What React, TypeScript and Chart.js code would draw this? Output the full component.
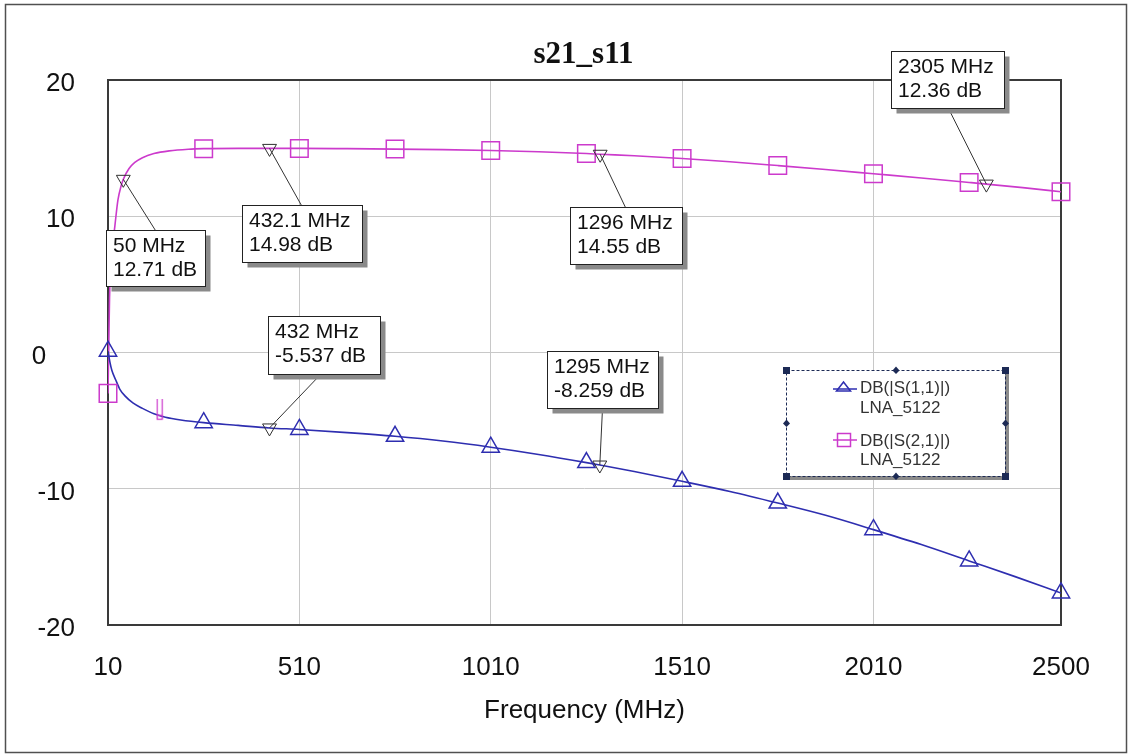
import React, { useEffect, useRef } from 'react';
import { Chart, registerables } from 'chart.js';

Chart.register(...registerables);

// ---------- data ----------
const chartTitle = 's21_s11';
const xAxisTitle = 'Frequency (MHz)';
const xTicks = [10, 510, 1010, 1510, 2010, 2500];
const yTicks = [-20, -10, 0, 10, 20];

const s11Name = 'DB(|S(1,1)|)';
const s21Name = 'DB(|S(2,1)|)';
const sourceName = 'LNA_5122';

const s21Freq = [10, 12, 14, 17, 22, 28, 36, 44, 50, 65, 80, 100, 130, 170, 220, 260, 350, 432.1, 510, 635, 760, 885, 1010, 1135, 1260, 1296, 1385, 1510, 1635, 1760, 1885, 2010, 2135, 2260, 2305, 2400, 2500];
const s21Db = [-3.0, 0.5, 4.0, 6.0, 7.8, 9.3, 11.2, 12.2, 12.71, 13.5, 13.95, 14.3, 14.6, 14.8, 14.92, 14.96, 14.98, 14.98, 14.98, 14.96, 14.93, 14.89, 14.83, 14.73, 14.6, 14.55, 14.44, 14.24, 14.0, 13.72, 13.43, 13.12, 12.81, 12.48, 12.36, 12.1, 11.8];

const s11Freq = [10, 15, 20, 30, 41, 55, 75, 100, 130, 160, 200, 260, 350, 432, 510, 635, 760, 885, 1010, 1135, 1260, 1295, 1385, 1510, 1635, 1760, 1885, 2010, 2135, 2260, 2380, 2500];
const s11Db = [0.1, -0.7, -1.3, -2.0, -2.7, -3.2, -3.7, -4.1, -4.5, -4.75, -4.95, -5.15, -5.35, -5.537, -5.65, -5.88, -6.15, -6.5, -6.95, -7.48, -8.08, -8.259, -8.74, -9.45, -10.2, -11.05, -11.95, -13.0, -14.1, -15.3, -16.45, -17.65];

// symbol markers are placed on these frequencies
const symbolFreq = [10, 260, 510, 760, 1010, 1260, 1510, 1760, 2010, 2260, 2500];

// stray S21 marker glyph near the start
const s21StrayFreq = [145];
const s21StrayDb = [-4.2];

// readout markers
const markerFreq = [50, 432.1, 1296, 2305, 432, 1295];
const markerDb = [12.71, 14.98, 14.55, 12.36, -5.537, -8.259];

// ---------- styles / layout ----------
const W = 1129;
const H = 754;
const SANS = '"Liberation Sans", Arial, sans-serif';
const SERIF = '"Liberation Serif", "Times New Roman", serif';
const BLUE = '#2e2eb0';
const MAGENTA = '#cc3acc';
const GRID = '#c8c8c8';

// readout box placement relative to its marker: dx, dy, w, h, leader anchor (ax, ay) inside box
const boxLayout = [
  { dx: -17, dy: 51, w: 99, h: 56, ax: 49, ay: 0 },
  { dx: -27.5, dy: 57, w: 120, h: 57, ax: 59, ay: 0 },
  { dx: -30, dy: 53, w: 112, h: 57, ax: 55, ay: 0 },
  { dx: -95, dy: -133, w: 113, h: 57, ax: 57, ay: 57 },
  { dx: -1.4, dy: -112, w: 112, h: 58, ax: 52, ay: 58 },
  { dx: -53, dy: -114, w: 111, h: 57, ax: 55, ay: 57 },
];

const legendBox = { x: 786, y: 370, w: 219, h: 106 };

const pts = (xs: number[], ys: number[]) => xs.map((x, i) => ({ x, y: ys[i] }));
const onSymbols = (xs: number[], ys: number[]) =>
  pts(xs, ys).filter((p) => symbolFreq.includes(p.x));

const decorPlugin = {
  id: 'decor',
  beforeDraw(chart: any) {
    const { ctx, chartArea } = chart;
    ctx.save();
    ctx.fillStyle = '#ffffff';
    ctx.fillRect(0, 0, W, H);
    ctx.strokeStyle = '#505050';
    ctx.lineWidth = 1.5;
    ctx.strokeRect(5.5, 4.5, 1121, 748);
    ctx.font = `bold 31px ${SERIF}`;
    ctx.fillStyle = '#111';
    ctx.textAlign = 'center';
    ctx.textBaseline = 'alphabetic';
    ctx.fillText(chartTitle, (chartArea.left + chartArea.right) / 2 - 1, 63);
    ctx.restore();
  },
  beforeDatasetsDraw(chart: any) {
    const { ctx, chartArea } = chart;
    ctx.save();
    ctx.strokeStyle = '#3a3a3a';
    ctx.lineWidth = 2;
    ctx.strokeRect(chartArea.left, chartArea.top, chartArea.right - chartArea.left, chartArea.bottom - chartArea.top);
    ctx.restore();
  },
  afterDatasetsDraw(chart: any) {
    const { ctx } = chart;
    const xs = chart.scales.x;
    const ys = chart.scales.y;
    ctx.save();
    // readout boxes
    markerFreq.forEach((f, i) => {
      const px = xs.getPixelForValue(f);
      const py = ys.getPixelForValue(markerDb[i]);
      const L = boxLayout[i];
      const bx = Math.round(px + L.dx) + 0.5;
      const by = Math.round(py + L.dy) + 0.5;
      ctx.strokeStyle = '#333';
      ctx.lineWidth = 1;
      ctx.beginPath();
      ctx.moveTo(px, py);
      ctx.lineTo(bx + L.ax, by + L.ay);
      ctx.stroke();
      ctx.fillStyle = '#8a8a8a';
      ctx.fillRect(bx + 5, by + 5, L.w, L.h);
      ctx.fillStyle = '#fff';
      ctx.fillRect(bx, by, L.w, L.h);
      ctx.strokeStyle = '#222';
      ctx.strokeRect(bx, by, L.w, L.h);
      ctx.fillStyle = '#111';
      ctx.font = `21px ${SANS}`;
      ctx.textAlign = 'left';
      ctx.textBaseline = 'middle';
      ctx.fillText(`${f} MHz`, bx + 6.5, by + 16);
      ctx.fillText(`${markerDb[i]} dB`, bx + 6.5, by + 40);
    });

    // legend
    const { x, y, w, h } = legendBox;
    ctx.fillStyle = '#8a8a8a';
    ctx.fillRect(x + 4, y + 4, w, h);
    ctx.fillStyle = '#fff';
    ctx.fillRect(x, y, w, h);
    ctx.strokeStyle = '#1c2a55';
    ctx.lineWidth = 1;
    ctx.setLineDash([3, 2]);
    ctx.strokeRect(x + 0.5, y + 0.5, w, h);
    ctx.setLineDash([]);
    ctx.fillStyle = '#1c2a55';
    const corners = [[x, y], [x + w, y], [x, y + h], [x + w, y + h]];
    corners.forEach(([cx, cy]) => ctx.fillRect(cx - 3, cy - 3, 7, 7));
    const mids = [[x + w / 2, y], [x + w / 2, y + h], [x, y + h / 2], [x + w, y + h / 2]];
    mids.forEach(([cx, cy]) => {
      ctx.beginPath();
      ctx.moveTo(cx + 0.5, cy - 3.5);
      ctx.lineTo(cx + 4, cy + 0.5);
      ctx.lineTo(cx + 0.5, cy + 4);
      ctx.lineTo(cx - 3, cy + 0.5);
      ctx.closePath();
      ctx.fill();
    });
    // entry 1: S11
    ctx.strokeStyle = BLUE;
    ctx.lineWidth = 1.5;
    ctx.beginPath();
    ctx.moveTo(x + 47, y + 19);
    ctx.lineTo(x + 71, y + 19);
    ctx.stroke();
    ctx.beginPath();
    ctx.moveTo(x + 57.5, y + 12);
    ctx.lineTo(x + 64.5, y + 21);
    ctx.lineTo(x + 50.5, y + 21);
    ctx.closePath();
    ctx.stroke();
    // entry 2: S21
    ctx.strokeStyle = MAGENTA;
    ctx.beginPath();
    ctx.moveTo(x + 47, y + 70);
    ctx.lineTo(x + 71, y + 70);
    ctx.stroke();
    ctx.strokeRect(x + 51.5, y + 63.5, 13, 13);
    ctx.fillStyle = '#333';
    ctx.font = `17px ${SANS}`;
    ctx.textAlign = 'left';
    ctx.textBaseline = 'middle';
    ctx.fillText(s11Name, x + 74, y + 18);
    ctx.fillText(sourceName, x + 74, y + 38);
    ctx.fillText(s21Name, x + 74, y + 71);
    ctx.fillText(sourceName, x + 74, y + 90);
    ctx.restore();
  },
};

export default function App() {
  const ref = useRef<HTMLCanvasElement>(null);

  useEffect(() => {
    const canvas = ref.current;
    if (!canvas) return;

    const stray = document.createElement('canvas');
    stray.width = 8;
    stray.height = 22;
    const sctx = stray.getContext('2d')!;
    sctx.strokeStyle = MAGENTA;
    sctx.lineWidth = 1.2;
    sctx.beginPath();
    sctx.moveTo(1.5, 0);
    sctx.lineTo(1.5, 21);
    sctx.moveTo(6.5, 0);
    sctx.lineTo(6.5, 21);
    sctx.stroke();
    sctx.strokeRect(1.5, 16.5, 5, 4);

    const chart = new Chart(canvas, {
      type: 'line',
      data: {
        datasets: [
          {
            label: 'markers',
            data: pts(markerFreq, markerDb),
            showLine: false,
            pointStyle: 'triangle',
            rotation: 180,
            pointRadius: 8,
            borderColor: '#303030',
            backgroundColor: 'rgba(0,0,0,0)',
            borderWidth: 1,
            clip: false,
          } as any,
          {
            label: 's11sym',
            data: onSymbols(s11Freq, s11Db),
            showLine: false,
            pointStyle: 'triangle',
            pointRadius: 10,
            borderColor: BLUE,
            backgroundColor: 'rgba(0,0,0,0)',
            borderWidth: 1.5,
            clip: false,
          } as any,
          {
            label: 's21sym',
            data: onSymbols(s21Freq, s21Db),
            showLine: false,
            pointStyle: 'rect',
            pointRadius: 12.4,
            borderColor: MAGENTA,
            backgroundColor: 'rgba(0,0,0,0)',
            borderWidth: 1.5,
            clip: false,
          } as any,
          {
            label: 's21stray',
            data: pts(s21StrayFreq, s21StrayDb),
            showLine: false,
            pointStyle: stray,
            pointRadius: 5,
            clip: false,
          } as any,
          {
            label: s11Name,
            data: pts(s11Freq, s11Db),
            borderColor: BLUE,
            borderWidth: 1.6,
            pointRadius: 0,
            cubicInterpolationMode: 'monotone',
            fill: false,
          } as any,
          {
            label: s21Name,
            data: pts(s21Freq, s21Db),
            borderColor: MAGENTA,
            borderWidth: 1.6,
            pointRadius: 0,
            cubicInterpolationMode: 'monotone',
            fill: false,
          } as any,
        ],
      },
      options: {
        responsive: false,
        animation: false,
        devicePixelRatio: 1,
        layout: { padding: { left: 0, top: 80, right: 68, bottom: 0 } },
        plugins: {
          legend: { display: false },
          title: { display: false },
          tooltip: { enabled: false },
        },
        scales: {
          x: {
            type: 'linear',
            min: 10,
            max: 2500,
            afterBuildTicks: (s: any) => {
              s.ticks = xTicks.map((v) => ({ value: v }));
            },
            afterFit: (s: any) => {
              s.height = 129;
            },
            grid: { color: GRID, lineWidth: 1, drawTicks: false },
            border: { display: false },
            ticks: {
              font: { family: SANS, size: 26 },
              color: '#111',
              padding: 27,
              maxRotation: 0,
              autoSkip: false,
              callback: (v: any) => String(v),
            },
            title: {
              display: true,
              text: xAxisTitle,
              font: { family: SANS, size: 26 },
              color: '#111',
              padding: { top: 0, bottom: 28 },
            },
          },
          y: {
            type: 'linear',
            min: -20,
            max: 20,
            afterBuildTicks: (s: any) => {
              s.ticks = yTicks.map((v) => ({ value: v }));
            },
            afterFit: (s: any) => {
              s.width = 108;
            },
            grid: { color: GRID, lineWidth: 1, drawTicks: false },
            border: { display: false },
            ticks: {
              font: { family: SANS, size: 26 },
              color: '#111',
              padding: 33,
              labelOffset: 4,
              callback: (v: any) => (Number(v) === 0 ? '0    ' : String(v)),
            },
          },
        },
      } as any,
      plugins: [decorPlugin],
    });

    return () => chart.destroy();
  }, []);

  return (
    <div style={{ position: 'absolute', left: 0, top: 0, width: W, height: H }}>
      <canvas ref={ref} width={W} height={H} style={{ display: 'block', width: W, height: H }} />
    </div>
  );
}
